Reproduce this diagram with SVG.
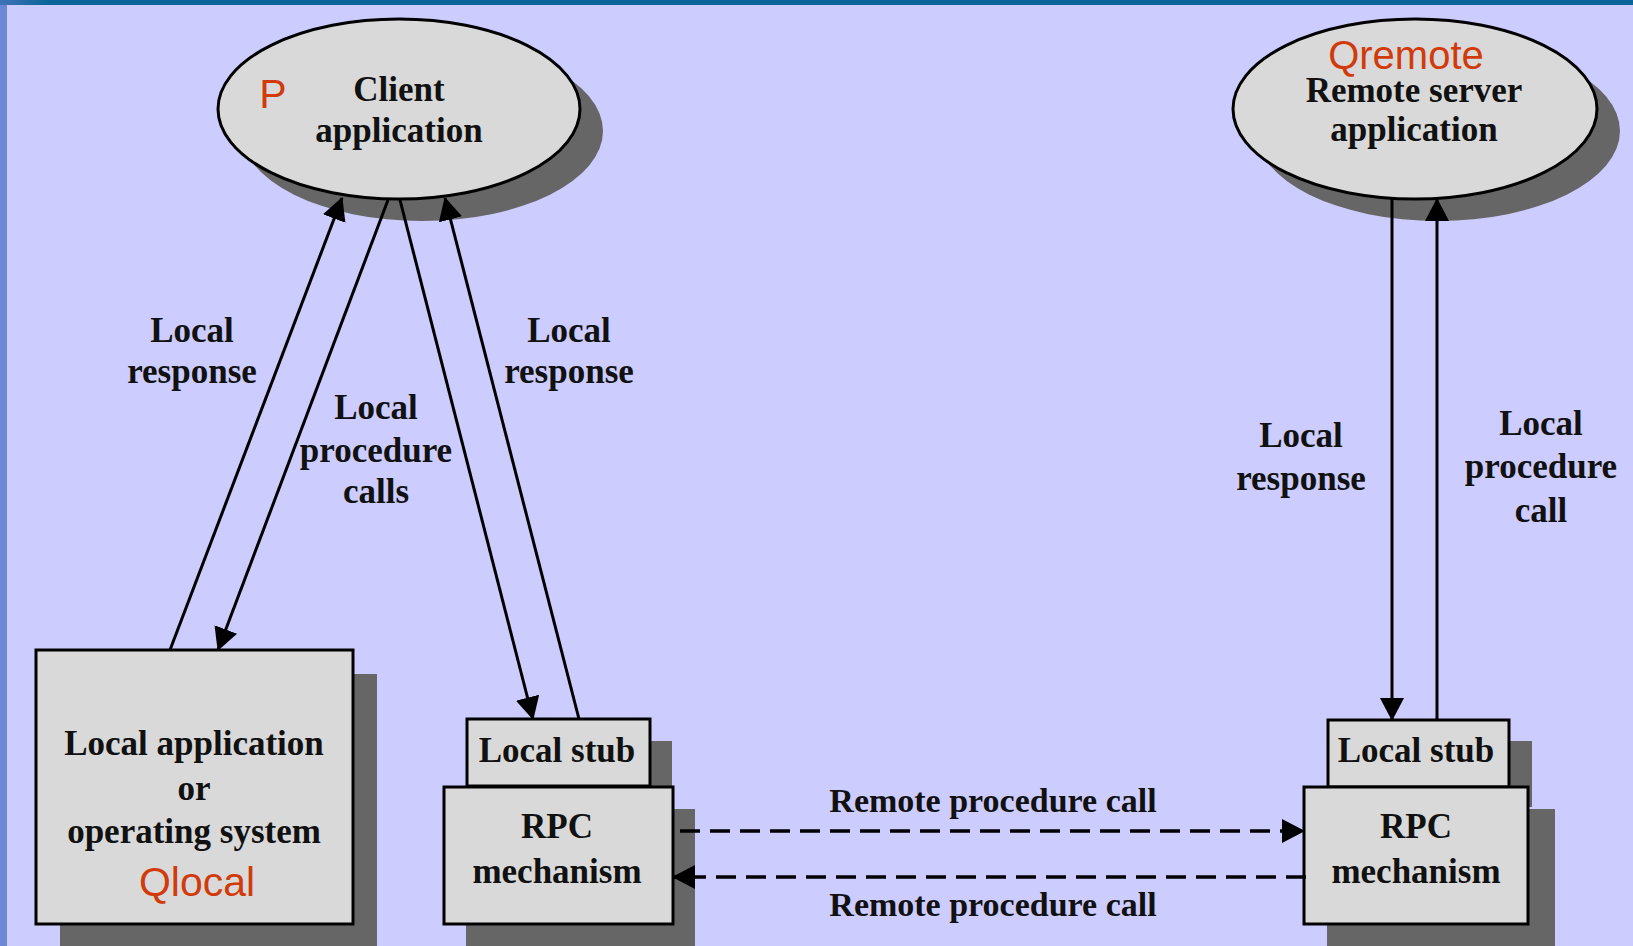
<svg xmlns="http://www.w3.org/2000/svg" width="1633" height="946" viewBox="0 0 1633 946">
  <defs>
    <style>
      .bg { fill: #CCCCFF; }
      .shadow { fill: #666666; stroke: none; }
      .node { fill: #D9D9D9; stroke: #000; stroke-width: 3; }
      .t { font-family: "Liberation Serif", "Times New Roman", serif; font-weight: bold; font-size: 35px; fill: #111; text-anchor: middle; }
      .rpc { font-size: 34px; }
      .red { font-family: "Liberation Sans", Arial, sans-serif; font-size: 41px; fill: #D13B0C; text-anchor: middle; }
      .conn { stroke: #000; stroke-width: 3; fill: none; }
      .dash { stroke: #000; stroke-width: 3.5; fill: none; stroke-dasharray: 20 10; }
    </style>
    <marker id="arrow" viewBox="0 0 23 24" refX="22" refY="12" markerWidth="23" markerHeight="24" markerUnits="userSpaceOnUse" orient="auto">
      <path d="M0,0 L23,12 L0,24 z" fill="#000"/>
    </marker>
    <linearGradient id="topbar" x1="0" y1="0" x2="1" y2="0">
      <stop offset="0" stop-color="#3F73B8"/>
      <stop offset="0.03" stop-color="#0A6499"/>
      <stop offset="1" stop-color="#0A6499"/>
    </linearGradient>
  </defs>

  <!-- background -->
  <rect class="bg" x="0" y="0" width="1633" height="946"/>
  <rect x="0" y="0" width="7" height="946" fill="#6C88D6"/>
  <rect x="0" y="0" width="1633" height="5" fill="url(#topbar)"/>

  <!-- shadows -->
  <g id="shadows">
    <ellipse class="shadow" cx="422" cy="131" rx="181" ry="90"/>
    <ellipse class="shadow" cx="1438" cy="131" rx="182" ry="90"/>
    <rect class="shadow" x="60" y="674" width="317" height="280"/>
    <rect class="shadow" x="489" y="741" width="183" height="66"/>
    <rect class="shadow" x="466" y="809" width="229" height="140"/>
    <rect class="shadow" x="1350" y="741" width="182" height="66"/>
    <rect class="shadow" x="1327" y="809" width="228" height="140"/>
  </g>

  <g id="client-app">
    <ellipse class="node" cx="399" cy="109" rx="181" ry="90"/>
    <text class="red" x="273" y="108">P</text>
    <text class="t" x="399" y="101">Client</text>
    <text class="t" x="399" y="142">application</text>
  </g>

  <g id="remote-server-app">
    <ellipse class="node" cx="1415" cy="109" rx="182" ry="90"/>
    <text class="red" x="1406" y="69" style="font-size:40px">Qremote</text>
    <text class="t" x="1414" y="102">Remote server</text>
    <text class="t" x="1414" y="141">application</text>
  </g>

  <g id="local-app-os">
    <rect class="node" x="36" y="650" width="317" height="274"/>
    <text class="t" x="194" y="755">Local application</text>
    <text class="t" x="194" y="800">or</text>
    <text class="t" x="194" y="843">operating system</text>
    <text class="red" x="197" y="896">Qlocal</text>
  </g>

  <g id="local-stub-client">
    <rect class="node" x="467" y="719" width="183" height="67"/>
    <text class="t" x="557" y="762">Local stub</text>
  </g>

  <g id="rpc-client">
    <rect class="node" x="444" y="787" width="229" height="137"/>
    <text class="t" x="557" y="838">RPC</text>
    <text class="t" x="557" y="883">mechanism</text>
  </g>

  <g id="local-stub-server">
    <rect class="node" x="1328" y="720" width="181" height="67"/>
    <text class="t" x="1416" y="762">Local stub</text>
  </g>

  <g id="rpc-server">
    <rect class="node" x="1304" y="787" width="224" height="137"/>
    <text class="t" x="1416" y="838">RPC</text>
    <text class="t" x="1416" y="883">mechanism</text>
  </g>

  <g id="connectors">
    <line class="conn" x1="170" y1="650" x2="342" y2="198" marker-end="url(#arrow)"/>
    <line class="conn" x1="388" y1="200" x2="218" y2="650" marker-end="url(#arrow)"/>
    <line class="conn" x1="400" y1="200" x2="533" y2="719" marker-end="url(#arrow)"/>
    <line class="conn" x1="579" y1="719" x2="445" y2="198" marker-end="url(#arrow)"/>
    <line class="conn" x1="1392" y1="199" x2="1392" y2="720" marker-end="url(#arrow)"/>
    <line class="conn" x1="1437" y1="720" x2="1437" y2="199" marker-end="url(#arrow)"/>
    <line class="dash" x1="680" y1="831" x2="1304" y2="831" marker-end="url(#arrow)"/>
    <line class="dash" x1="1306" y1="877" x2="673" y2="877" marker-end="url(#arrow)"/>
  </g>

  <g id="connector-labels">
    <text class="t" x="192" y="342">Local</text>
    <text class="t" x="192" y="383">response</text>
    <text class="t" x="376" y="419">Local</text>
    <text class="t" x="376" y="462">procedure</text>
    <text class="t" x="376" y="503">calls</text>
    <text class="t" x="569" y="342">Local</text>
    <text class="t" x="569" y="383">response</text>
    <text class="t" x="1301" y="447">Local</text>
    <text class="t" x="1301" y="490">response</text>
    <text class="t" x="1541" y="435">Local</text>
    <text class="t" x="1541" y="478">procedure</text>
    <text class="t" x="1541" y="522">call</text>
    <text class="t rpc" x="993" y="812">Remote procedure call</text>
    <text class="t rpc" x="993" y="916">Remote procedure call</text>
  </g>
</svg>
